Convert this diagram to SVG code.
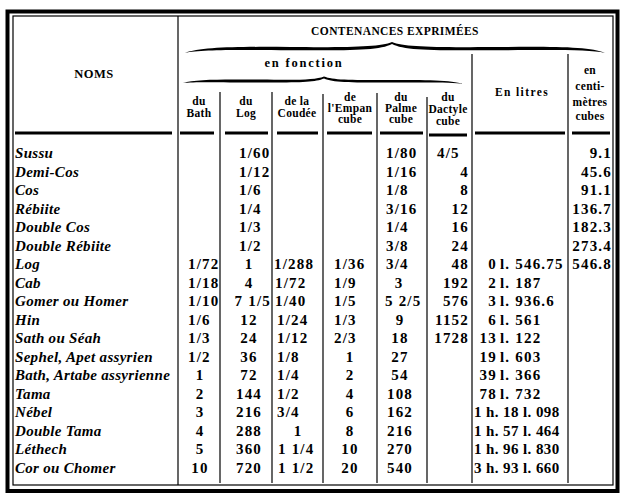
<svg xmlns="http://www.w3.org/2000/svg" width="627" height="502" viewBox="0 0 627 502">
<style>
text{font-family:"Liberation Serif","Times New Roman",serif;fill:#000}
.h{font-size:11.5px;font-weight:bold;text-anchor:middle;letter-spacing:0.3px}
.t{font-weight:bold;text-anchor:middle}
.nm{font-size:15px;font-weight:bold;font-style:italic;letter-spacing:0.3px}
.v{font-size:15px;font-weight:bold;letter-spacing:1.2px}
.w{letter-spacing:0.4px}
.m{text-anchor:middle}
.e{text-anchor:end}
.ln{stroke:#000;stroke-width:1.2;fill:none}
.sep{stroke:#000;stroke-width:3;fill:none}
</style>
<rect width="627" height="502" fill="#fff"/>
<g id="frame">
<rect x="7.5" y="11.5" width="610" height="479.5" fill="none" stroke="#000" stroke-width="4"/>
<rect x="13" y="16" width="600" height="469" fill="none" stroke="#000" stroke-width="1.2"/>
</g>
<g id="connectors">
<line class="ln" x1="178" y1="16" x2="178" y2="485"/>
<line class="ln" x1="220" y1="92" x2="220" y2="483"/>
<line class="ln" x1="272" y1="92" x2="272" y2="483"/>
<line class="ln" x1="323" y1="94" x2="323" y2="483"/>
<line class="ln" x1="377" y1="93" x2="377" y2="483"/>
<line class="ln" x1="427" y1="97" x2="427" y2="483"/>
<line class="ln" x1="472" y1="54" x2="472" y2="483"/>
<line class="ln" x1="568" y1="54" x2="568" y2="483"/>
<path d="M15,133H172M180,133H214M225,133H268M277,133H318M327,133H372M380,133H423M475,133H565M572,133H610M429,135H467" class="sep"/>
<path d="M185,53 C200,47 240,46.5 290,47 C350,47.5 380,47 392,42 C404,47 434,47.5 494,47 C554,46.5 590,46.5 605,53 C590,49.5 554,50 494,50.3 C434,50.5 404,50.5 392,44 C380,50.5 350,50.5 290,50.3 C240,50 200,49.5 185,53 Z" fill="#000"/>
<path d="M183,83 C195,79 225,79.3 260,79.6 C300,80 315,80 324,76.5 C333,80 348,80 388,80 C425,80 452,80 463,84 C452,82 425,82.6 388,82.6 C348,82.6 333,82.3 324,78.5 C315,82.3 300,82.6 260,82.5 C225,82.5 195,81.5 183,83 Z" fill="#000"/>
</g>
<g id="header">
<text class="t" x="94" y="78" font-size="12.5" letter-spacing="0.5">NOMS</text>
<text class="t" x="395" y="35" font-size="11.5" letter-spacing="0.4">CONTENANCES EXPRIMÉES</text>
<text class="t" x="304" y="67" font-size="12.5" letter-spacing="1.8">en fonction</text>
<text class="h" x="199" y="104.5">du</text><text class="h" x="199" y="116.5">Bath</text>
<text class="h" x="246" y="104.5">du</text><text class="h" x="246" y="116.5">Log</text>
<text class="h" x="297" y="104.5">de la</text><text class="h" x="297" y="116.5">Coudée</text>
<text class="h" x="350" y="100.5">de</text><text class="h" x="350" y="111.5">l'Empan</text><text class="h" x="350" y="122.5">cube</text>
<text class="h" x="401" y="100.5">du</text><text class="h" x="401" y="111.5">Palme</text><text class="h" x="401" y="122.5">cube</text>
<text class="h" x="448" y="100.5">du</text><text class="h" x="448" y="113">Dactyle</text><text class="h" x="448" y="124.5">cube</text>
<text class="t" x="522" y="96" font-size="11.5" letter-spacing="1.4">En litres</text>
<text class="h" x="590" y="73.5">en</text><text class="h" x="590" y="89.5">centi-</text><text class="h" x="590" y="105.5">mètres</text><text class="h" x="590" y="120">cubes</text>
</g>
<g id="row-sussu" transform="translate(0,158.3)">
<text class="nm" x="15">Sussu</text>
<text class="v" x="239">1/60</text><text class="v" x="386">1/80</text><text class="v" x="437">4/5</text><text class="v e" x="612">9.1</text>
</g>
<g id="row-demi-cos" transform="translate(0,176.8)">
<text class="nm" x="15">Demi-Cos</text>
<text class="v" x="239">1/12</text><text class="v" x="386">1/16</text><text class="v e" x="469">4</text><text class="v e" x="612">45.6</text>
</g>
<g id="row-cos" transform="translate(0,195.3)">
<text class="nm" x="15">Cos</text>
<text class="v" x="239">1/6</text><text class="v" x="386">1/8</text><text class="v e" x="469">8</text><text class="v e" x="612">91.1</text>
</g>
<g id="row-rebiite" transform="translate(0,213.8)">
<text class="nm" x="15">Rébiite</text>
<text class="v" x="239">1/4</text><text class="v" x="386">3/16</text><text class="v e" x="469">12</text><text class="v e" x="612">136.7</text>
</g>
<g id="row-double-cos" transform="translate(0,232.3)">
<text class="nm" x="15">Double Cos</text>
<text class="v" x="239">1/3</text><text class="v" x="386">1/4</text><text class="v e" x="469">16</text><text class="v e" x="612">182.3</text>
</g>
<g id="row-double-rebiite" transform="translate(0,250.8)">
<text class="nm" x="15">Double Rébiite</text>
<text class="v" x="239">1/2</text><text class="v" x="386">3/8</text><text class="v e" x="469">24</text><text class="v e" x="612">273.4</text>
</g>
<g id="row-log" transform="translate(0,269.3)">
<text class="nm" x="15">Log</text>
<text class="v" x="188">1/72</text><text class="v m" x="249">1</text><text class="v" x="274">1/288</text><text class="v" x="334">1/36</text><text class="v" x="386">3/4</text><text class="v e" x="469">48</text>
<text class="v e" x="497">0</text><text class="v" x="500">l. 546.75</text><text class="v e" x="612">546.8</text>
</g>
<g id="row-cab" transform="translate(0,287.8)">
<text class="nm" x="15">Cab</text>
<text class="v" x="188">1/18</text><text class="v m" x="249">4</text><text class="v" x="275">1/72</text><text class="v" x="334">1/9</text><text class="v m" x="399">3</text><text class="v e" x="469">192</text>
<text class="v e" x="497">2</text><text class="v" x="500">l. 187</text>
</g>
<g id="row-gomer" transform="translate(0,306.3)">
<text class="nm" x="15">Gomer ou Homer</text>
<text class="v" x="188">1/10</text><text class="v e" x="271">7 1/5</text><text class="v" x="275">1/40</text><text class="v" x="334">1/5</text><text class="v" x="385">5 2/5</text><text class="v e" x="469">576</text>
<text class="v e" x="497">3</text><text class="v" x="500">l. 936.6</text>
</g>
<g id="row-hin" transform="translate(0,324.8)">
<text class="nm" x="15">Hin</text>
<text class="v" x="188">1/6</text><text class="v m" x="249">12</text><text class="v" x="277">1/24</text><text class="v" x="334">1/3</text><text class="v m" x="400">9</text><text class="v e" x="469">1152</text>
<text class="v e" x="497">6</text><text class="v" x="500">l. 561</text>
</g>
<g id="row-sath" transform="translate(0,343.3)">
<text class="nm" x="15">Sath ou Séah</text>
<text class="v" x="188">1/3</text><text class="v m" x="249">24</text><text class="v" x="277">1/12</text><text class="v" x="334">2/3</text><text class="v m" x="400">18</text><text class="v e" x="469">1728</text>
<text class="v e" x="497">13</text><text class="v" x="500">l. 122</text>
</g>
<g id="row-sephel" transform="translate(0,361.8)">
<text class="nm" x="15">Sephel, Apet assyrien</text>
<text class="v" x="188">1/2</text><text class="v m" x="249">36</text><text class="v" x="277">1/8</text><text class="v m" x="350">1</text><text class="v m" x="400">27</text>
<text class="v e" x="497">19</text><text class="v" x="500">l. 603</text>
</g>
<g id="row-bath" transform="translate(0,380.3)">
<text class="nm" x="15">Bath, Artabe assyrienne</text>
<text class="v m" x="200">1</text><text class="v m" x="249">72</text><text class="v" x="277">1/4</text><text class="v m" x="350">2</text><text class="v m" x="400">54</text>
<text class="v e" x="497">39</text><text class="v" x="500">l. 366</text>
</g>
<g id="row-tama" transform="translate(0,398.8)">
<text class="nm" x="15">Tama</text>
<text class="v m" x="200">2</text><text class="v m" x="249">144</text><text class="v" x="277">1/2</text><text class="v m" x="350">4</text><text class="v m" x="400">108</text>
<text class="v e" x="497">78</text><text class="v" x="500">l. 732</text>
</g>
<g id="row-nebel" transform="translate(0,417.3)">
<text class="nm" x="15">Nébel</text>
<text class="v m" x="200">3</text><text class="v m" x="249">216</text><text class="v" x="277">3/4</text><text class="v m" x="350">6</text><text class="v m" x="400">162</text>
<text class="v w" x="474">1 h. 18 l. 098</text>
</g>
<g id="row-double-tama" transform="translate(0,435.8)">
<text class="nm" x="15">Double Tama</text>
<text class="v m" x="200">4</text><text class="v m" x="249">288</text><text class="v m" x="298">1</text><text class="v m" x="350">8</text><text class="v m" x="400">216</text>
<text class="v w" x="474">1 h. 57 l. 464</text>
</g>
<g id="row-lethech" transform="translate(0,454.3)">
<text class="nm" x="15">Léthech</text>
<text class="v m" x="200">5</text><text class="v m" x="249">360</text><text class="v" x="278">1 1/4</text><text class="v m" x="350">10</text><text class="v m" x="400">270</text>
<text class="v w" x="474">1 h. 96 l. 830</text>
</g>
<g id="row-cor" transform="translate(0,472.8)">
<text class="nm" x="15">Cor ou Chomer</text>
<text class="v m" x="200">10</text><text class="v m" x="249">720</text><text class="v" x="278">1 1/2</text><text class="v m" x="350">20</text><text class="v m" x="400">540</text>
<text class="v w" x="474">3 h. 93 l. 660</text>
</g>
</svg>
